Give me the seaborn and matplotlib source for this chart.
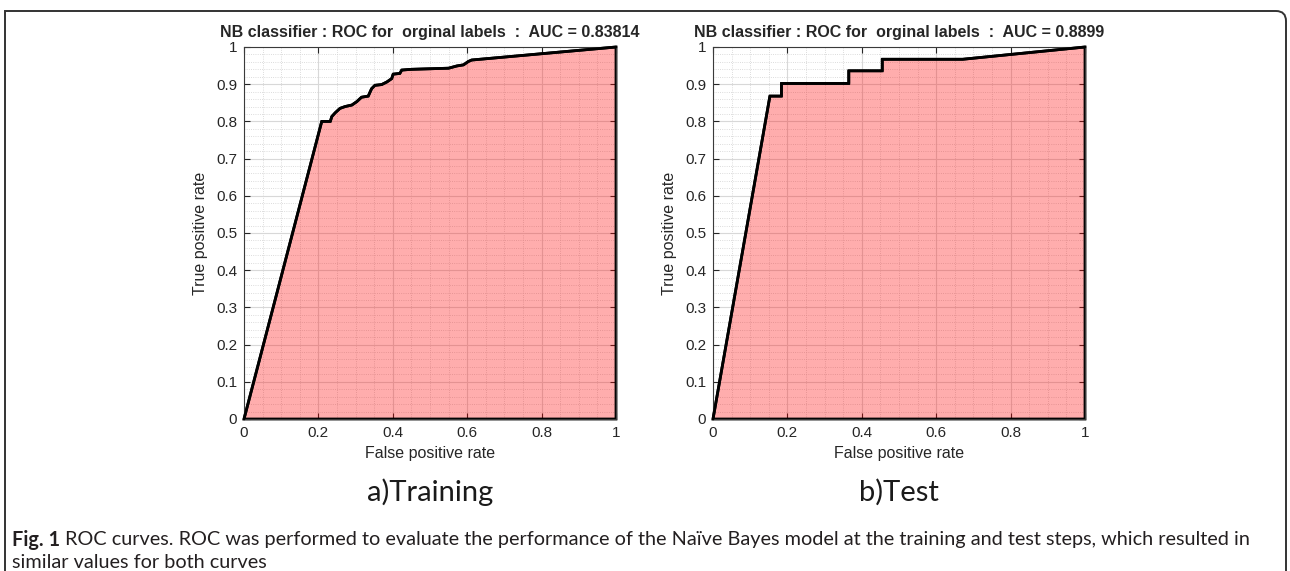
import matplotlib
matplotlib.use('Agg')
import matplotlib.pyplot as plt
from matplotlib.path import Path
from matplotlib.patches import PathPatch, Polygon
from matplotlib.ticker import MultipleLocator, FixedLocator, FormatStrFormatter
import pandas as pd
import seaborn as sns

# curve values
train_fpr = [0.0, 0.209, 0.232, 0.236, 0.245, 0.258, 0.272, 0.29, 0.303, 0.316, 0.334,
             0.343, 0.352, 0.37, 0.384, 0.397, 0.401, 0.419, 0.424, 0.45, 0.55, 0.572,
             0.59, 0.603, 0.612, 1.0]
train_tpr = [0.0, 0.80, 0.80, 0.813, 0.823, 0.835, 0.84, 0.844, 0.853, 0.865, 0.868,
             0.888, 0.897, 0.899, 0.906, 0.915, 0.927, 0.929, 0.938, 0.94, 0.943, 0.949,
             0.952, 0.961, 0.965, 1.0]
test_fpr = [0.0, 0.153, 0.184, 0.184, 0.365, 0.365, 0.455, 0.455, 0.671, 1.0]
test_tpr = [0.0, 0.868, 0.868, 0.902, 0.902, 0.936, 0.936, 0.967, 0.967, 1.0]

auc_values = ['0.83814', '0.8899']
panel_labels = ['a)Training', 'b)Test']
x_ticks = [0, 0.2, 0.4, 0.6, 0.8, 1]
y_ticks = [0, 0.1, 0.2, 0.3, 0.4, 0.5, 0.6, 0.7, 0.8, 0.9, 1]
caption_bold = 'Fig. 1'
caption_line1 = ('ROC curves. ROC was performed to evaluate the performance of the '
                 'Naïve Bayes model at the training and test steps, which resulted in')
caption_line2 = 'similar values for both curves'

W, H = 1290, 571
sns.set_style('ticks')
plt.rcParams['font.family'] = ['Liberation Sans', 'DejaVu Sans']

fig = plt.figure(figsize=(W / 100, H / 100), dpi=100)


def fx(px):
    return px / W


def fy(py):
    return 1 - py / H


panels = [(244, train_fpr, train_tpr), (713, test_fpr, test_tpr)]
for i, (left, fpr, tpr) in enumerate(panels):
    ax = fig.add_axes([fx(left), fy(419), 372 / W, 372 / H])
    df = pd.DataFrame({'fpr': fpr, 'tpr': tpr})

    poly = Polygon(list(zip(fpr, tpr)) + [(1, 0), (0, 0)], closed=True,
                   facecolor=(1, 0, 0, 0.32), edgecolor='black', lw=2,
                   zorder=2, clip_on=False)
    ax.add_patch(poly)
    sns.lineplot(data=df, x='fpr', y='tpr', sort=False, estimator=None,
                 color='black', lw=2, ax=ax, zorder=3)
    for ln in ax.lines:
        ln.set_clip_on(False)

    ax.set_xlim(0, 1)
    ax.set_ylim(0, 1)
    ax.xaxis.set_major_locator(FixedLocator(x_ticks))
    ax.yaxis.set_major_locator(FixedLocator(y_ticks))
    ax.xaxis.set_major_formatter(FormatStrFormatter('%g'))
    ax.yaxis.set_major_formatter(FormatStrFormatter('%g'))
    ax.xaxis.set_minor_locator(MultipleLocator(0.05))
    ax.yaxis.set_minor_locator(MultipleLocator(0.02))
    ax.grid(which='major', color='#d8d8d8', lw=0.8, ls='-', zorder=0)
    ax.grid(which='minor', color='#d0d0d0', lw=0.6, ls=':', zorder=0)
    ax.set_axisbelow(True)
    ax.tick_params(which='major', direction='in', length=4, width=0.8,
                   top=True, right=True, labelsize=11, colors='#262626',
                   pad=5)
    ax.tick_params(which='minor', length=0)
    for sp in ax.spines.values():
        sp.set_color('#3a3a3a')
        sp.set_linewidth(0.8)

    ax.set_xlabel('False positive rate', fontsize=11.5, color='#262626', labelpad=4)
    ax.set_ylabel('True positive rate', fontsize=11.5, color='#262626', labelpad=6)
    ax.set_title('NB classifier : ROC for  orginal labels  :  AUC = ' + auc_values[i],
                 fontsize=11.5, fontweight='bold', pad=7)

    fig.text(fx(left + 186), fy(492), panel_labels[i], ha='center', va='center',
             fontsize=21, color='#1a1a1a', family=['Lato', 'DejaVu Sans'])

# caption
fig.canvas.draw()
r = fig.canvas.get_renderer()
t_bold = fig.text(fx(12), fy(540), caption_bold, ha='left', va='center',
                  fontsize=14.3, fontweight='bold', color='#231f20',
                  family=['Lato', 'DejaVu Sans'])
bb = t_bold.get_window_extent(renderer=r)
fig.text(bb.x1 / W + fx(5), fy(540), caption_line1, ha='left', va='center',
         fontsize=14.3, color='#231f20', family=['Lato', 'DejaVu Sans'])
fig.text(fx(12), fy(563), caption_line2, ha='left', va='center',
         fontsize=14.3, color='#231f20', family=['Lato', 'DejaVu Sans'])

# frame around the figure
rad = 10
verts = [(fx(5), fy(H + 10)), (fx(5), fy(11)), (fx(1286 - rad), fy(11)),
         (fx(1286), fy(11)), (fx(1286), fy(11 + rad)), (fx(1286), fy(H + 10))]
codes = [Path.MOVETO, Path.LINETO, Path.LINETO, Path.CURVE3, Path.CURVE3, Path.LINETO]
fig.patches.append(PathPatch(Path(verts, codes), transform=fig.transFigure,
                             fill=False, edgecolor='#333333', lw=1.4))

fig.savefig('out.png', dpi=100)
